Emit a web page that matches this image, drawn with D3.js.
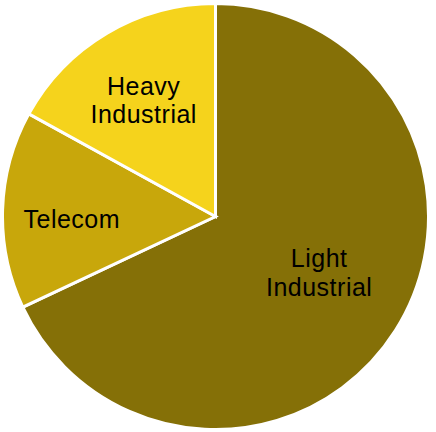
<!DOCTYPE html>
<html>
<head>
<meta charset="utf-8">
<script src="https://cdn.jsdelivr.net/npm/d3@7"></script>
<style>
  html, body { margin: 0; padding: 0; background: #ffffff; }
  svg { display: block; }
</style>
</head>
<body>
<svg id="chart" width="436" height="432"></svg>
<script>
// Share of load by customer segment
const categories = ["Light Industrial", "Telecom", "Heavy Industrial"];
const shares = [68, 15, 17];
const labelLines = [["Light", "Industrial"], ["Telecom"], ["Heavy", "Industrial"]];

const sliceColors = ["#857007", "#C8A70B", "#F5D31C"];
// label placement: fraction of radius, and angular nudge (degrees) from the slice midpoint
const labelRadiusFactor = [0.552, 0.676, 0.644];
const labelAngleShift = [-4.0, -2.9, -1.1];

const cx = 215.5, cy = 216.5, radius = 213;
const fontSize = 25, lineHeight = 28.5;

const svg = d3.select("#chart");
const g = svg.append("g").attr("transform", `translate(${cx},${cy})`);

const pie = d3.pie().sort(null).value(d => d.value);
const data = pie(categories.map((c, i) => ({ name: c, value: shares[i], i })));

const arc = d3.arc().innerRadius(0).outerRadius(radius);
const color = d3.scaleOrdinal().domain(categories).range(sliceColors);

g.selectAll("path.slice")
  .data(data)
  .join("path")
  .attr("class", "slice")
  .attr("d", arc)
  .attr("fill", d => color(d.data.name))
  .attr("stroke", "#ffffff")
  .attr("stroke-width", 3)
  .attr("stroke-linejoin", "miter");

const labels = g.selectAll("text.label")
  .data(data)
  .join("text")
  .attr("class", "label")
  .attr("transform", d => {
    const i = d.data.i;
    const r = radius * labelRadiusFactor[i];
    const a = (d.startAngle + d.endAngle) / 2 + labelAngleShift[i] * Math.PI / 180;
    return `translate(${r * Math.sin(a)},${-r * Math.cos(a)})`;
  })
  .attr("text-anchor", "middle")
  .attr("font-family", "Liberation Sans, Arial, sans-serif")
  .attr("font-size", fontSize)
  .attr("letter-spacing", 0.5)
  .attr("fill", "#000000");

labels.each(function(d) {
  const lines = labelLines[d.data.i];
  const n = lines.length;
  const sel = d3.select(this);
  lines.forEach((t, k) => {
    sel.append("tspan")
      .attr("x", 0.25)
      .attr("y", (k - (n - 1) / 2) * lineHeight + fontSize * 0.36)
      .text(t);
  });
});
</script>
</body>
</html>
